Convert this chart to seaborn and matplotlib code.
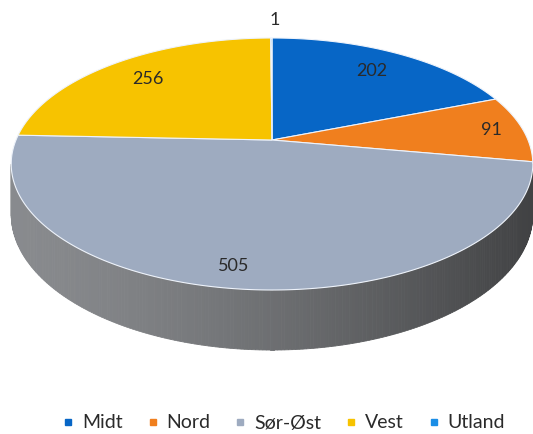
import numpy as np
import matplotlib
matplotlib.use("Agg")
import matplotlib.pyplot as plt
import seaborn as sns
from matplotlib.patches import Polygon
from matplotlib.lines import Line2D
from matplotlib.colors import to_rgb

# ---- data ----
categories = ["Midt", "Nord", "Sør-Øst", "Vest", "Utland"]
values = [202, 91, 505, 256, 1]
colors = ["#0766c6", "#f07f1e", "#9eabc0", "#f7c300", "#1b8ee6"]
label_r = [0.77, 0.875, 0.87, 0.77, 1.22]
label_dx = [0, 0, -10, 0, 3]

sns.set_theme(style="white")
plt.rcParams['font.family'] = ['Lato', 'DejaVu Sans']

W, H = 533, 434
fig = plt.figure(figsize=(W / 100, H / 100), dpi=100)
fig.patch.set_facecolor("white")
ax = fig.add_axes([0, 0, 1, 1])
ax.set_xlim(0, W)
ax.set_ylim(H, 0)
ax.axis('off')

# perspective projection of a tilted disc
CX, CY = 272, 140
A, B, D = 256, 637.5, 5.25
HSIDE = 48.6


def proj(theta_deg, r=1.0, drop=0.0):
    t = np.radians(theta_deg)
    x, y = r * np.cos(t), r * np.sin(t)
    s = D / (D + y)
    return CX + A * x * s, CY - (B / D) * y * s + drop * s


vals = np.array(values, dtype=float)
spans = vals / vals.sum() * 360.0
ends = 90 - np.cumsum(spans)
starts = ends + spans

# side wall (front half, below silhouette)
sil = np.degrees(np.arcsin(-1.0 / D))
th_left = -180 - sil
th_right = sil
grid = np.linspace(th_left, th_right, 240)
for i in range(len(grid) - 1):
    a0, a1 = grid[i], grid[i + 1]
    mid = (a0 + a1) / 2
    m = ((mid - 90) % 360) - 360
    idx = 0
    for k in range(len(vals)):
        lo = ends[k] - 90
        hi = starts[k] - 90
        if lo <= m <= hi:
            idx = k
            break
    c = np.array(to_rgb(colors[idx]))
    lum = c.mean()
    base = 0.8 * lum + 0.2 * c
    xs, _ = proj(mid)
    xn = (xs - 12) / (532 - 12)
    shade = 0.80 - 0.42 * np.clip(xn, 0, 1) ** 1.4
    col = np.clip(base * shade, 0, 1)
    p0 = proj(a0); p1 = proj(a1)
    q1 = proj(a1, drop=HSIDE); q0 = proj(a0, drop=HSIDE)
    ax.add_patch(Polygon([p0, p1, q1, q0], closed=True, facecolor=col,
                         edgecolor=col, linewidth=0.6))

# top faces
for k in range(len(vals)):
    th = np.linspace(starts[k], ends[k], max(int(spans[k] * 2), 3))
    pts = [proj(90, r=0.0)] + [proj(t) for t in th]
    ax.add_patch(Polygon(pts, closed=True, facecolor=colors[k],
                         edgecolor="#eef3fb", linewidth=0.8))

# data labels
for k in range(len(vals)):
    mid = (starts[k] + ends[k]) / 2
    x, y = proj(mid, r=label_r[k])
    ax.text(x + label_dx[k], y, f"{values[k]}", ha="center", va="center",
            fontsize=13, color="#2a2a2a")

# legend
handles = [Line2D([0], [0], marker='s', linestyle='none', markersize=5,
                  markerfacecolor=c, markeredgecolor=c) for c in colors]
fig.legend(handles, categories, loc="center", bbox_to_anchor=(283 / W, 1 - 423 / H),
           ncol=5, frameon=False, fontsize=14, handlelength=0.7,
           handletextpad=0.35, columnspacing=1.2, labelcolor="#2a2a2a")

fig.savefig("out.png", dpi=100, facecolor="white")
